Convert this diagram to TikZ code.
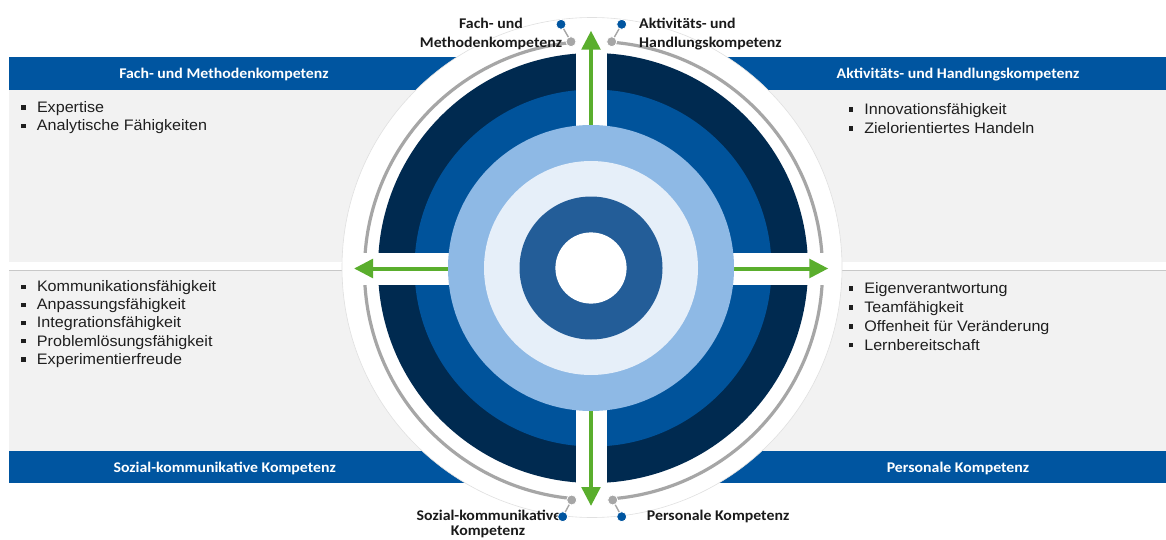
\documentclass[tikz,border=0pt]{standalone}
\usepackage{fontspec}
\setmainfont{Liberation Sans}
\newfontfamily\headfont[FakeStretch=1.07]{Carlito}
\newfontfamily\listfont[FakeStretch=1.06]{Liberation Sans}
\usetikzlibrary{arrows.meta}

\definecolor{ringnavy}{HTML}{002A50}
\definecolor{ringblue}{HTML}{00539B}
\definecolor{ringlight}{HTML}{8EB9E5}
\definecolor{ringpale}{HTML}{E6EFF9}
\definecolor{ringmid}{HTML}{235D98}
\definecolor{headblue}{HTML}{0055A0}
\definecolor{panelgray}{HTML}{F2F2F2}
\definecolor{panelline}{HTML}{C8C8C8}
\definecolor{arrowgreen}{HTML}{5AAE2D}
\definecolor{ringgray}{HTML}{A6A6A6}
\definecolor{dotblue}{HTML}{0055A0}
\definecolor{labelblack}{HTML}{1A1A1A}
\definecolor{listtext}{HTML}{1F1F1F}

% square list bullet followed by the indent of the item text
\newcommand\sqbul{\makebox[15.8pt][l]{\raisebox{2.6pt}{\rule{4.3pt}{4.3pt}}}}

\tikzset{
  hdr/.style={font=\headfont\bfseries\fontsize{14.8}{18}\selectfont, text=white, inner sep=0pt},
  lbl/.style={font=\headfont\bfseries\fontsize{14.8}{18}\selectfont, text=labelblack, inner sep=0pt},
  lst/.style={font=\listfont\fontsize{15.2}{18}\selectfont, text=listtext, inner sep=0pt, anchor=base west},
  bdot/.style={circle, fill=dotblue, draw=white, line width=0.8pt, minimum size=10pt, inner sep=0pt},
  gdot/.style={circle, fill=ringgray, draw=white, line width=0.8pt, minimum size=10pt, inner sep=0pt},
  dotline/.style={draw=ringgray, line width=1.4pt},
  greenarrow/.style={draw=arrowgreen, line width=4pt, -{Triangle[length=19pt,width=18.5pt]}},
}

\begin{document}
\begin{tikzpicture}[x=1pt,y=-1pt]
\useasboundingbox (0,0) rectangle (1166,540);
\fill[white] (0,0) rectangle (1166,540);

% panels behind the disc
\fill[panelgray] (9,90) rectangle (1166,262);
\fill[panelgray] (9,270) rectangle (1166,450.7);
\draw[panelline, line width=0.8pt] (9,270) -- (1166,270);
\fill[headblue] (9,57.3) rectangle (1166,90);
\fill[headblue] (9,450.7) rectangle (1166,483.3);

% white disc with the grey ring
\fill[white, draw=black!12, line width=0.6pt] (592,267.5) circle[radius=250pt];
\draw[ringgray, line width=3.2pt] (593.5,270.5) circle[radius=229pt];

% outer rings
\fill[ringnavy] (593,268) circle[radius=215pt];
\fill[ringblue] (593,268) circle[radius=178.5pt];

% white cross cutting the outer rings
\fill[white] (575.7,20) rectangle (606.7,515);
\fill[white] (344,252.8) rectangle (840,284.9);
\fill[white] (572.5,30) rectangle (611,50);
\fill[white] (572.5,488) rectangle (612,512);

% arrows from the centre
\coordinate (c) at (591,268.5);
\coordinate (tipN) at (591,30.7);
\coordinate (tipS) at (591,506);
\coordinate (tipW) at (354,268.5);
\coordinate (tipE) at (828.3,268.5);
\draw[greenarrow] (c) -- (tipN);
\draw[greenarrow] (c) -- (tipS);
\draw[greenarrow] (c) -- (tipW);
\draw[greenarrow] (c) -- (tipE);

% inner rings
\fill[ringlight] (591,268) circle[radius=143pt];
\fill[ringpale] (591,268) circle[radius=107pt];
\fill[ringmid] (591,268) circle[radius=71.5pt];
\fill[white] (591,268) circle[radius=35.6pt];

% outer labels
\node[lbl, anchor=base] (fm1) at (491,28.3) {Fach- und};
\node[lbl, anchor=base] (fm2) at (491,47.3) {Methodenkompetenz};
\node[lbl, anchor=base west] (ah1) at (639,28.3) {Aktivitäts- und};
\node[lbl, anchor=base west] (ah2) at (639,47.3) {Handlungskompetenz};
\node[lbl, anchor=base] (sk1) at (489,520) {Sozial-kommunikative};
\node[lbl, anchor=base] (sk2) at (488,535.5) {Kompetenz};
\node[lbl, anchor=base west] (pk1) at (646.7,520.5) {Personale Kompetenz};

% connector dots
\node[bdot] (bNW) at (561,24.3) {};
\node[gdot] (gNW) at (571,41.7) {};
\node[bdot] (bNE) at (621.7,24.3) {};
\node[gdot] (gNE) at (611.7,41.7) {};
\node[gdot] (gSW) at (571.7,500) {};
\node[bdot] (bSW) at (562.7,516.7) {};
\node[gdot] (gSE) at (612.7,500) {};
\node[bdot] (bSE) at (621.7,516.7) {};
\draw[dotline] (bNW) -- (gNW);
\draw[dotline] (bNE) -- (gNE);
\draw[dotline] (gSW) -- (bSW);
\draw[dotline] (gSE) -- (bSE);

% header titles
\node[hdr, anchor=base] (h1) at (224,78.3) {Fach- und Methodenkompetenz};
\node[hdr, anchor=base] (h2) at (958,78.3) {Aktivitäts- und Handlungskompetenz};
\node[hdr, anchor=base] (h3) at (224.7,472.7) {Sozial-kommunikative Kompetenz};
\node[hdr, anchor=base] (h4) at (958,472.7) {Personale Kompetenz};

% item lists
\node[lst] (l1) at (21,112.3) {\vtop{\baselineskip=18.4pt
  \hbox{\sqbul Expertise}
  \hbox{\sqbul Analytische Fähigkeiten}}};
\node[lst] (l2) at (21,291.7) {\vtop{\baselineskip=18.1pt
  \hbox{\sqbul Kommunikationsfähigkeit}
  \hbox{\sqbul Anpassungsfähigkeit}
  \hbox{\sqbul Integrationsfähigkeit}
  \hbox{\sqbul Problemlösungsfähigkeit}
  \hbox{\sqbul Experimentierfreude}}};
\node[lst] (l3) at (848.3,114.3) {\vtop{\baselineskip=19pt
  \hbox{\sqbul Innovationsfähigkeit}
  \hbox{\sqbul Zielorientiertes Handeln}}};
\node[lst] (l4) at (848.3,293.3) {\vtop{\baselineskip=18.9pt
  \hbox{\sqbul Eigenverantwortung}
  \hbox{\sqbul Teamfähigkeit}
  \hbox{\sqbul Offenheit für Veränderung}
  \hbox{\sqbul Lernbereitschaft}}};
\end{tikzpicture}
\end{document}
